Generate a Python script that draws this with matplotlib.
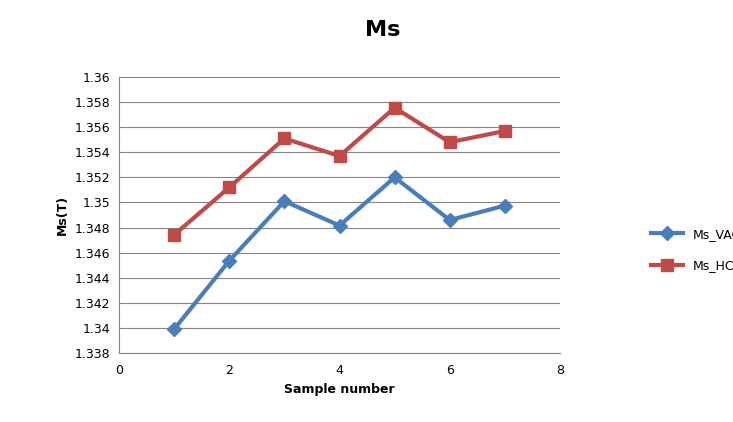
import matplotlib.pyplot as plt

samples = [1, 2, 3, 4, 5, 6, 7]
ms_vac = [1.3399, 1.34535, 1.3501, 1.34816, 1.3520, 1.3486, 1.34975]
ms_hc = [1.34742, 1.3512, 1.3551, 1.3537, 1.35755, 1.3548, 1.3557]
yticks = [1.338 + 0.002 * i for i in range(12)]

fig = plt.figure(figsize=(7.33, 4.22), dpi=100)
ax = fig.add_axes([119 / 733, 1 - 353 / 422, 441 / 733, 276 / 422])
ax.plot(samples, ms_vac, color='#4a7ebb', lw=3, marker='D', ms=7, label='Ms_VAC')
ax.plot(samples, ms_hc, color='#be4b48', lw=3, marker='s', ms=8, label='Ms_HC')
ax.set_xlim(0, 8)
ax.set_ylim(1.338, 1.36)
ax.set_yticks(yticks)
ax.set_yticklabels(['%g' % round(v, 3) for v in yticks], fontsize=9)
ax.set_xticks(range(0, 9, 2))
ax.tick_params(axis='x', labelsize=9, length=0, pad=8)
ax.tick_params(axis='y', length=0, pad=6)
ax.grid(axis='y', color='#868686', lw=0.8)
ax.set_axisbelow(True)
for s in ['top', 'right']:
    ax.spines[s].set_visible(False)
for s in ['left', 'bottom']:
    ax.spines[s].set_color('#868686')
ax.set_xlabel('Sample number', fontsize=9, fontweight='bold')
ax.set_ylabel('Ms(T)', fontsize=9, fontweight='bold')
fig.text(383 / 733, 1 - 30 / 422, 'Ms', fontsize=16, fontweight='bold', ha='center', va='center')
fig.legend(loc='center left', bbox_to_anchor=(640 / 733, 1 - 250 / 422), frameon=False,
           fontsize=9, handlelength=2.5, labelspacing=1.5)
fig.savefig('out.png')
